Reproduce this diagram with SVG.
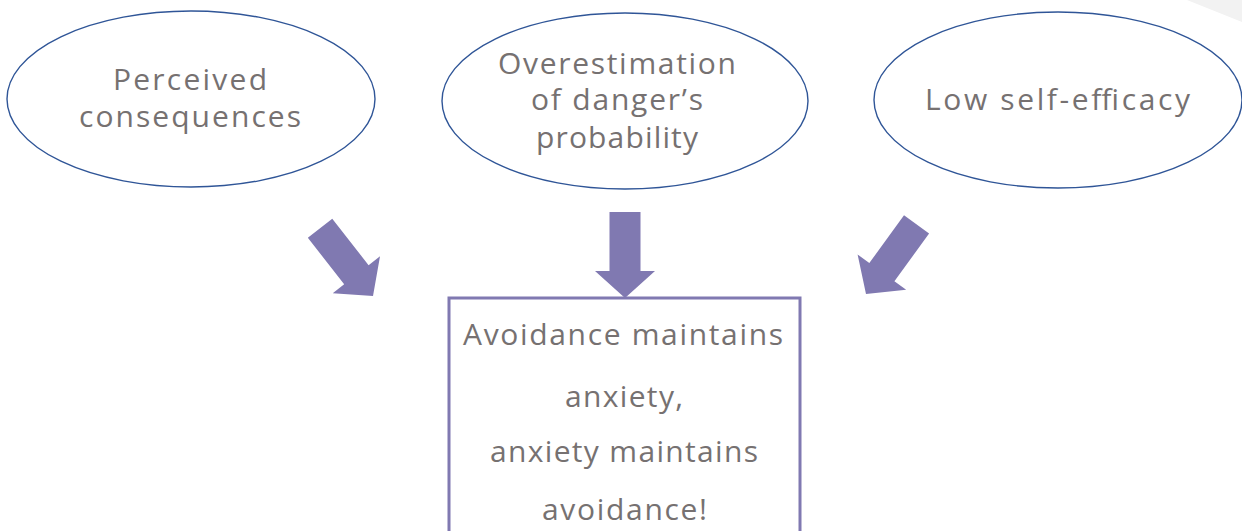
<svg xmlns="http://www.w3.org/2000/svg" width="1242" height="531" viewBox="0 0 1242 531">
<style>
.node ellipse{fill:#ffffff;stroke:#2f5597;stroke-width:1.4}
.box{fill:#ffffff;stroke:#8079b1;stroke-width:3}
text{font-family:"Open Sans","Liberation Sans",Arial,sans-serif;font-size:30px;fill:#767171;text-anchor:middle}
.arrow{fill:#8079b1}
</style>
<defs>
<polygon id="arr" points="-15.5,-86 15.5,-86 15.5,-27 30,-27 0,0 -30,-27 -15.5,-27"/>
</defs>
<rect width="1242" height="531" fill="#ffffff"/>
<polygon points="1187,0 1242,0 1242,22" fill="#f2f2f2"/>
<g id="node-consequences" class="node">
<ellipse cx="191" cy="99" rx="184" ry="88"/>
<text x="190" y="90" textLength="154" lengthAdjust="spacing">Perceived</text>
<text x="190" y="127" textLength="222" lengthAdjust="spacing">consequences</text>
</g>
<g id="node-overestimation" class="node">
<ellipse cx="625" cy="101" rx="183" ry="88"/>
<text x="617" y="74" textLength="238" lengthAdjust="spacing">Overestimation</text>
<text x="617" y="110" textLength="172" lengthAdjust="spacing">of danger’s</text>
<text x="617" y="148" textLength="162" lengthAdjust="spacing">probability</text>
</g>
<g id="node-selfefficacy" class="node">
<ellipse cx="1058" cy="100" rx="184" ry="88"/>
<text x="1057.5" y="110" textLength="265" lengthAdjust="spacing">Low self-efficacy</text>
</g>
<g id="node-avoidance">
<rect class="box" x="449" y="298" width="351" height="260"/>
<text x="623" y="345" textLength="320" lengthAdjust="spacing">Avoidance maintains</text>
<text x="624" y="407" textLength="118" lengthAdjust="spacing">anxiety,</text>
<text x="624" y="462" textLength="268" lengthAdjust="spacing">anxiety maintains</text>
<text x="624.5" y="520" textLength="165" lengthAdjust="spacing">avoidance!</text>
</g>
<g id="connectors" class="arrow">
<use href="#arr" transform="translate(373,296) rotate(-38)"/>
<use href="#arr" transform="translate(625,298)"/>
<use href="#arr" transform="translate(866,294) rotate(36)"/>
</g>
</svg>
